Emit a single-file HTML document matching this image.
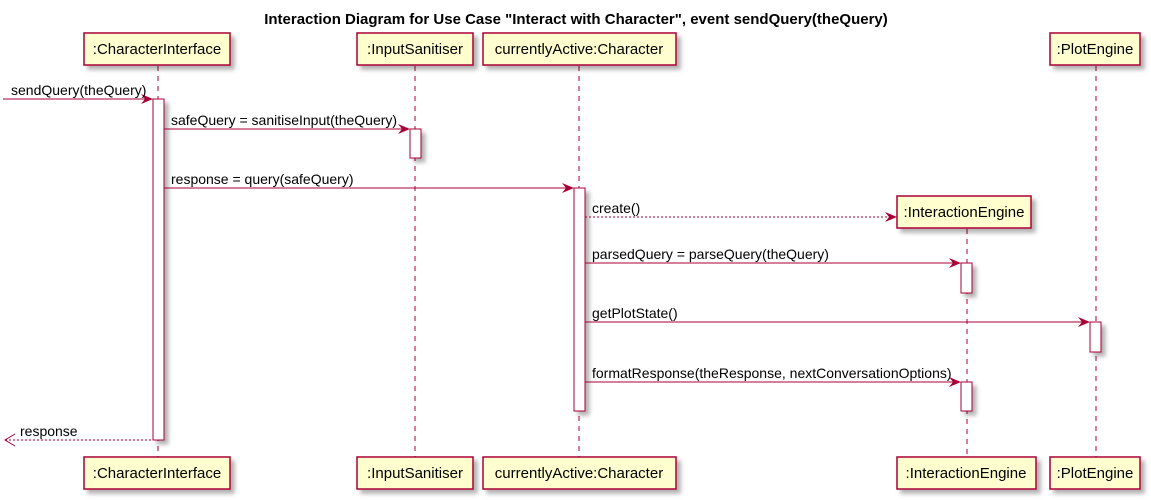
<!DOCTYPE html>
<html><head><meta charset="utf-8"><style>body{margin:0;background:#fff}svg{display:block}</style></head><body>
<svg width="1151" height="500" xmlns="http://www.w3.org/2000/svg" font-family="Liberation Sans, DejaVu Sans, sans-serif" font-size="14">
<defs>
<filter id="sh" x="-10%" y="-10%" width="130%" height="150%"><feDropShadow dx="4" dy="4" stdDeviation="2" flood-color="#000" flood-opacity="0.3"/></filter>
<marker id="ah" viewBox="0 0 12 10" refX="11" refY="5" markerWidth="12" markerHeight="10" markerUnits="userSpaceOnUse" orient="auto"><path d="M0,0 L12,5 L0,10 L4,5 Z" fill="#A80036"/></marker>
</defs>
<text x="576" y="24" text-anchor="middle" font-weight="bold" font-size="15">Interaction Diagram for Use Case "Interact with Character", event sendQuery(theQuery)</text>
<g stroke="#A80036" stroke-dasharray="5,5" stroke-width="1">
<line x1="158" y1="66" x2="158" y2="457"/><line x1="415" y1="66" x2="415" y2="457"/><line x1="579" y1="66" x2="579" y2="457"/><line x1="967" y1="229" x2="967" y2="457"/><line x1="1096" y1="66" x2="1096" y2="457"/>
</g>
<g fill="#FEFECE" stroke="#A80036" stroke-width="1.5" filter="url(#sh)">
<rect x="84" y="33" width="146" height="32"/><rect x="357" y="33" width="116" height="32"/><rect x="483" y="33" width="193" height="32"/><rect x="1050" y="33" width="90" height="32"/>
<rect x="897" y="196" width="134" height="32"/>
<rect x="84" y="457" width="146" height="32"/><rect x="357" y="457" width="116" height="32"/><rect x="483" y="457" width="193" height="32"/><rect x="897" y="457" width="139" height="32"/><rect x="1050" y="457" width="90" height="32"/>
</g>
<g fill="#fff" stroke="#A80036" stroke-width="1" filter="url(#sh)">
<rect x="153" y="99" width="11" height="341"/><rect x="410" y="129" width="11" height="29"/><rect x="574" y="188" width="11" height="223"/>
<rect x="961" y="263" width="11" height="30"/><rect x="1090" y="322" width="11" height="30"/><rect x="961" y="382" width="11" height="29"/>
</g>
<g font-size="15" text-anchor="middle">
<text x="157" y="54">:CharacterInterface</text><text x="415" y="54">:InputSanitiser</text><text x="579" y="54">currentlyActive:Character</text><text x="1095" y="54">:PlotEngine</text><text x="964" y="217">:InteractionEngine</text>
<text x="157" y="478">:CharacterInterface</text><text x="415" y="478">:InputSanitiser</text><text x="579" y="478">currentlyActive:Character</text><text x="966" y="478">:InteractionEngine</text><text x="1095" y="478">:PlotEngine</text>
</g>
<g stroke="#A80036" stroke-width="1" fill="none">
<line x1="3" y1="99" x2="152" y2="99" marker-end="url(#ah)"/>
<line x1="164" y1="129" x2="409" y2="129" marker-end="url(#ah)"/>
<line x1="164" y1="188" x2="573" y2="188" marker-end="url(#ah)"/>
<line x1="585" y1="217" x2="896" y2="217" stroke-dasharray="2,2" marker-end="url(#ah)"/>
<line x1="585" y1="263" x2="960" y2="263" marker-end="url(#ah)"/>
<line x1="585" y1="322" x2="1089" y2="322" marker-end="url(#ah)"/>
<line x1="585" y1="382" x2="960" y2="382" marker-end="url(#ah)"/>
<line x1="5" y1="440" x2="153" y2="440" stroke-dasharray="2,2"/>
<path d="M15,434 L5,440 L15,446"/>
</g>
<g font-size="14">
<text x="11" y="95">sendQuery(theQuery)</text>
<text x="171" y="125">safeQuery = sanitiseInput(theQuery)</text>
<text x="171" y="184">response = query(safeQuery)</text>
<text x="592" y="213">create()</text>
<text x="592" y="259">parsedQuery = parseQuery(theQuery)</text>
<text x="592" y="318">getPlotState()</text>
<text x="592" y="378">formatResponse(theResponse, nextConversationOptions)</text>
<text x="20" y="436">response</text>
</g>
</svg>
</body></html>
